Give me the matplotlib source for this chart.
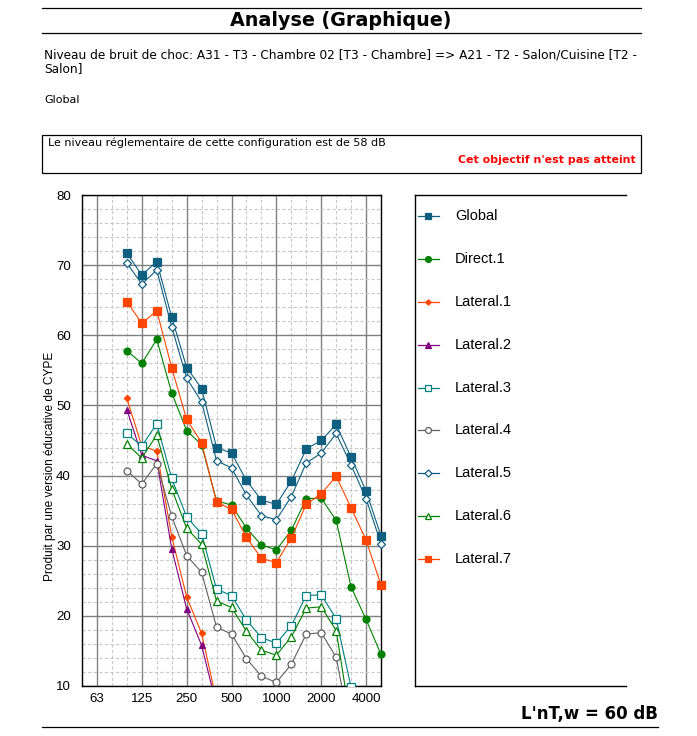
import matplotlib
matplotlib.use('Agg')
import matplotlib.pyplot as plt
import numpy as np
from matplotlib.lines import Line2D
from matplotlib.transforms import Bbox, TransformedBbox

nan = np.nan

# Third-octave bands on the x axis (50 Hz .. 5000 Hz)
bands = [50, 63, 80, 100, 125, 160, 200, 250, 315, 400, 500, 630, 800, 1000,
         1250, 1600, 2000, 2500, 3150, 4000, 5000]
tick_labels = ["63", "125", "250", "500", "1000", "2000", "4000"]
freqs = [100, 125, 160, 200, 250, 315, 400, 500, 630, 800, 1000, 1250, 1600,
         2000, 2500, 3150, 4000, 5000]

global_ = [71.7, 68.6, 70.5, 62.6, 55.4, 52.4, 44.0, 43.2, 39.3, 36.5, 35.9,
           39.2, 43.8, 45.0, 47.3, 42.6, 37.8, 31.4]
direct_1 = [57.8, 56.0, 59.4, 51.8, 46.4, 44.4, 36.4, 35.8, 32.5, 30.1, 29.4,
            32.2, 36.7, 36.8, 33.6, 24.1, 19.5, 14.5]
lateral_1 = [51.0, 44.2, 43.5, 31.3, 22.7, 17.5, 7.9, nan, nan, nan, nan,
             nan, nan, nan, nan, nan, nan, nan]
lateral_2 = [49.4, 42.9, 42.1, 29.6, 21.0, 15.8, 7.2, nan, nan, nan, nan,
             nan, nan, nan, nan, nan, nan, nan]
lateral_3 = [46.0, 44.2, 47.4, 39.6, 34.1, 31.7, 23.8, 22.9, 19.4, 16.9, 16.1,
             18.6, 22.9, 23.0, 19.6, 9.8, nan, nan]
lateral_4 = [40.7, 38.8, 41.7, 34.2, 28.6, 26.2, 18.4, 17.4, 13.9, 11.4, 10.5,
             13.1, 17.4, 17.6, 14.1, 3.0, nan, nan]
lateral_5 = [70.3, 67.3, 69.3, 61.2, 53.9, 50.5, 42.1, 41.1, 37.2, 34.3, 33.7,
             37.0, 41.8, 43.2, 46.0, 41.5, 36.7, 30.3]
lateral_6 = [44.5, 42.5, 45.8, 38.1, 32.5, 30.2, 22.1, 21.2, 17.8, 15.1, 14.4,
             17.0, 21.1, 21.3, 17.9, 4.5, nan, nan]
lateral_7 = [64.8, 61.7, 63.5, 55.4, 48.0, 44.7, 36.2, 35.2, 31.2, 28.2, 27.6,
             31.1, 35.9, 37.4, 39.9, 35.4, 30.8, 24.4]

# name, values, color, marker, size, filled
series = [
    ("Global", global_, "#0f5f80", "s", 5.2, True),
    ("Direct.1", direct_1, "#008000", "o", 5.0, True),
    ("Lateral.1", lateral_1, "#ff4500", "D", 3.2, True),
    ("Lateral.2", lateral_2, "#800080", "^", 4.5, True),
    ("Lateral.3", lateral_3, "#008080", "s", 5.5, False),
    ("Lateral.4", lateral_4, "#606060", "o", 5.0, False),
    ("Lateral.5", lateral_5, "#0f5f80", "D", 4.2, False),
    ("Lateral.6", lateral_6, "#008000", "^", 5.5, False),
    ("Lateral.7", lateral_7, "#ff4500", "s", 5.5, True),
]

W, H = 697, 736
fig = plt.figure(figsize=(W / 100, H / 100), dpi=100)


def fx(px):
    return px / W


def fy(py):
    return 1 - py / H


# Header
fig.add_artist(Line2D([fx(42), fx(641)], [fy(8), fy(8)], color="black", lw=0.9))
fig.add_artist(Line2D([fx(42), fx(641)], [fy(33), fy(33)], color="black", lw=0.9))
fig.text(fx(341), fy(21), "Analyse (Graphique)", ha="center", va="center",
         fontsize=13.8, fontweight="bold", family="DejaVu Sans")
fig.text(fx(44), fy(55), "Niveau de bruit de choc: A31 - T3 - Chambre 02 [T3 - Chambre] => A21 - T2 - Salon/Cuisine [T2 -",
         ha="left", va="center", fontsize=8.75, family="DejaVu Sans")
fig.text(fx(44), fy(69), "Salon]", ha="left", va="center", fontsize=8.75, family="DejaVu Sans")
fig.text(fx(44), fy(100), "Global", ha="left", va="center", fontsize=8.0, family="DejaVu Sans")

# Box with regulatory level
box = plt.Rectangle((fx(42), fy(173)), fx(641) - fx(42), fy(135) - fy(173),
                    transform=fig.transFigure, fill=False, ec="black", lw=0.9)
fig.add_artist(box)
fig.text(fx(48), fy(143), "Le niveau réglementaire de cette configuration est de 58 dB",
         ha="left", va="center", fontsize=8.0, family="DejaVu Sans")
fig.text(fx(636), fy(160), "Cet objectif n'est pas atteint", ha="right", va="center",
         fontsize=7.9, fontweight="bold", color="#ff0000", family="DejaVu Sans")

# Main plot
ax = fig.add_axes([fx(82), fy(686), fx(381) - fx(82), fy(195) - fy(686)])
clip = TransformedBbox(Bbox([[-0.05, 0.0], [1.05, 1.0]]), ax.transAxes)
idx = [bands.index(f) for f in freqs]
for name, vals, col, mk, ms, filled in series:
    ln, = ax.plot(idx, vals, color=col, lw=0.8, marker=mk, markersize=ms,
                  markerfacecolor=col if filled else "white", markeredgecolor=col,
                  markeredgewidth=0.9, zorder=3)
    ln.set_clip_box(clip)

ax.set_xlim(0, len(bands) - 1)
ax.set_ylim(10, 80)
major_x = [bands.index(int(t)) for t in tick_labels]
ax.set_xticks(major_x)
ax.set_xticklabels(tick_labels)
ax.set_xticks([i for i in range(len(bands)) if i not in major_x], minor=True)
ax.set_yticks(np.arange(10, 81, 10))
ax.set_yticks([v for v in range(10, 81, 2) if v % 10], minor=True)
ax.grid(which="major", color="#808080", lw=1.0, ls="-", zorder=1)
ax.grid(which="minor", color="#c8c8c8", lw=0.8, ls=(0, (3, 2)), zorder=0)
ax.tick_params(which="both", length=0)
ax.tick_params(axis="y", pad=8, labelsize=9.5)
ax.tick_params(axis="x", pad=5, labelsize=9.5)
for lab in ax.get_xticklabels() + ax.get_yticklabels():
    lab.set_family("Liberation Sans")
for s in ax.spines.values():
    s.set_color("black")
    s.set_linewidth(1.0)
fig.text(fx(50), fy(466), "Produit par une version éducative de CYPE", rotation=90,
         ha="center", va="center", fontsize=8.6, family="Liberation Sans")

# Legend panel
lax = fig.add_axes([fx(415), fy(686), fx(626) - fx(415), fy(195) - fy(686)])
lax.set_xlim(415, 626)
lax.set_ylim(686, 195)
lax.set_xticks([])
lax.set_yticks([])
lax.spines["right"].set_visible(False)
for k in ["left", "top", "bottom"]:
    lax.spines[k].set_linewidth(1.0)
y0, dy = 216.5, 42.8
for i, (name, vals, col, mk, ms, filled) in enumerate(series):
    yy = y0 + i * dy
    lax.plot([418, 439], [yy, yy], color=col, lw=0.9)
    lax.plot([428], [yy], marker=mk, markersize=ms * 0.85, color=col,
             markerfacecolor=col if filled else "white", markeredgecolor=col,
             markeredgewidth=0.9)
    lax.text(455, yy, name, ha="left", va="center", fontsize=10.5, family="Liberation Sans")

# Footer
fig.text(fx(658), fy(714), "L'nT,w = 60 dB", ha="right", va="center",
         fontsize=12, fontweight="bold", family="DejaVu Sans")
fig.add_artist(Line2D([fx(42), fx(658)], [fy(727), fy(727)], color="black", lw=0.9))

plt.savefig("out.png", dpi=100)
